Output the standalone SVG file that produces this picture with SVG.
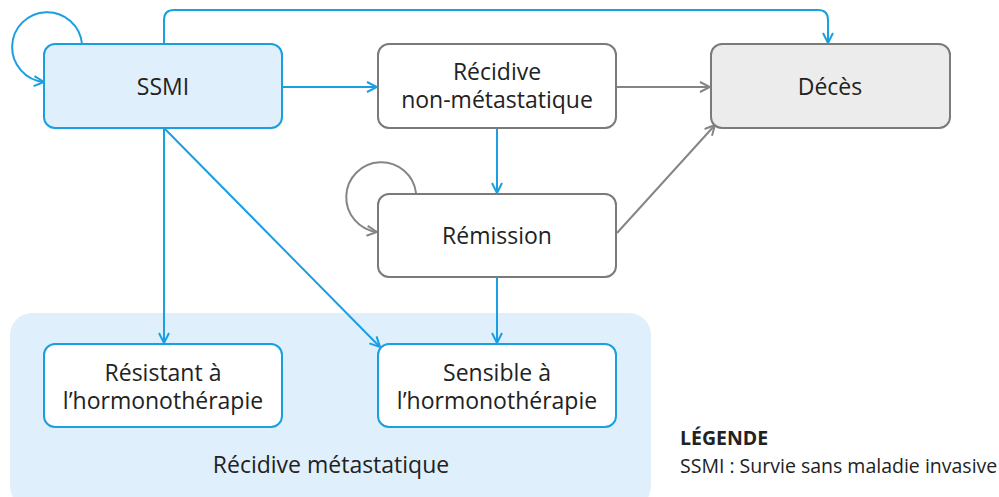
<svg xmlns="http://www.w3.org/2000/svg" width="999" height="497" viewBox="0 0 999 497">
<defs>
<style>
.t{font-family:"Open Sans","Noto Sans","Liberation Sans",sans-serif;font-size:23px;fill:#222;text-anchor:middle}
.blue{fill:#dff0fc;stroke:#1a9fe0;stroke-width:2}
.bw{fill:#fff;stroke:#1a9fe0;stroke-width:2}
.gw{fill:#fff;stroke:#7a7a7a;stroke-width:2}
.gg{fill:#ececec;stroke:#7a7a7a;stroke-width:2}
.cb{fill:none;stroke:#1a9fe0;stroke-width:2;marker-end:url(#ab)}
.cg{fill:none;stroke:#858585;stroke-width:2;marker-end:url(#ag)}
.lg{font-family:"Open Sans","Noto Sans","Liberation Sans",sans-serif;font-size:19.5px;fill:#222}
</style>
<marker id="ab" viewBox="0 0 12 12" refX="11" refY="6" markerWidth="12" markerHeight="12" markerUnits="userSpaceOnUse" orient="auto"><path d="M1,1 L11,6 L1,11" fill="none" stroke="#1a9fe0" stroke-width="2"/></marker>
<marker id="ag" viewBox="0 0 12 12" refX="11" refY="6" markerWidth="12" markerHeight="12" markerUnits="userSpaceOnUse" orient="auto"><path d="M1,1 L11,6 L1,11" fill="none" stroke="#858585" stroke-width="2"/></marker>
</defs>
<rect width="999" height="497" fill="#fff"/>
<g id="groupe-metastatique">
<rect x="10" y="313" width="641" height="195" rx="22" fill="#dff0fc"/>
<text class="t" x="331" y="473">Récidive métastatique</text>
</g>
<g id="connectors">
<path class="cb" d="M82,44 A35,35 0 1 0 44,82"/>
<path class="cb" d="M164,44 V20 Q164,10 174,10 H818 Q828,10 828,20 V43"/>
<path class="cb" d="M282,87 H377"/>
<path class="cg" d="M616,87 H710"/>
<path class="cg" d="M617,233 L715,125"/>
<path class="cb" d="M497,128 V193"/>
<path class="cg" d="M416,193 A35,35 0 1 0 377,232"/>
<path class="cb" d="M497,277 V343"/>
<path class="cb" d="M164,128 V343"/>
<path class="cb" d="M164,128 L380,347"/>
</g>
<g id="ssmi">
<rect class="blue" x="44" y="44" width="238" height="84" rx="11"/>
<text class="t" x="163" y="95">SSMI</text>
</g>
<g id="recidive-non-metastatique">
<rect class="gw" x="378" y="44" width="238" height="84" rx="11"/>
<text class="t" x="497" y="80">Récidive</text>
<text class="t" x="497" y="108">non-métastatique</text>
</g>
<g id="deces">
<rect class="gg" x="711" y="44" width="239" height="84" rx="11"/>
<text class="t" x="830" y="95">Décès</text>
</g>
<g id="remission">
<rect class="gw" x="378" y="194" width="238" height="83" rx="11"/>
<text class="t" x="497" y="244">Rémission</text>
</g>
<g id="resistant">
<rect class="bw" x="44" y="344" width="238" height="83" rx="11"/>
<text class="t" x="163" y="381">Résistant à</text>
<text class="t" x="163" y="409">l’hormonothérapie</text>
</g>
<g id="sensible">
<rect class="bw" x="378" y="344" width="238" height="83" rx="11"/>
<text class="t" x="497" y="381">Sensible à</text>
<text class="t" x="497" y="409">l’hormonothérapie</text>
</g>
<g id="legende">
<text class="lg" x="680" y="445" font-weight="bold">LÉGENDE</text>
<text class="lg" x="680" y="473">SSMI : Survie sans maladie invasive</text>
</g>
</svg>
